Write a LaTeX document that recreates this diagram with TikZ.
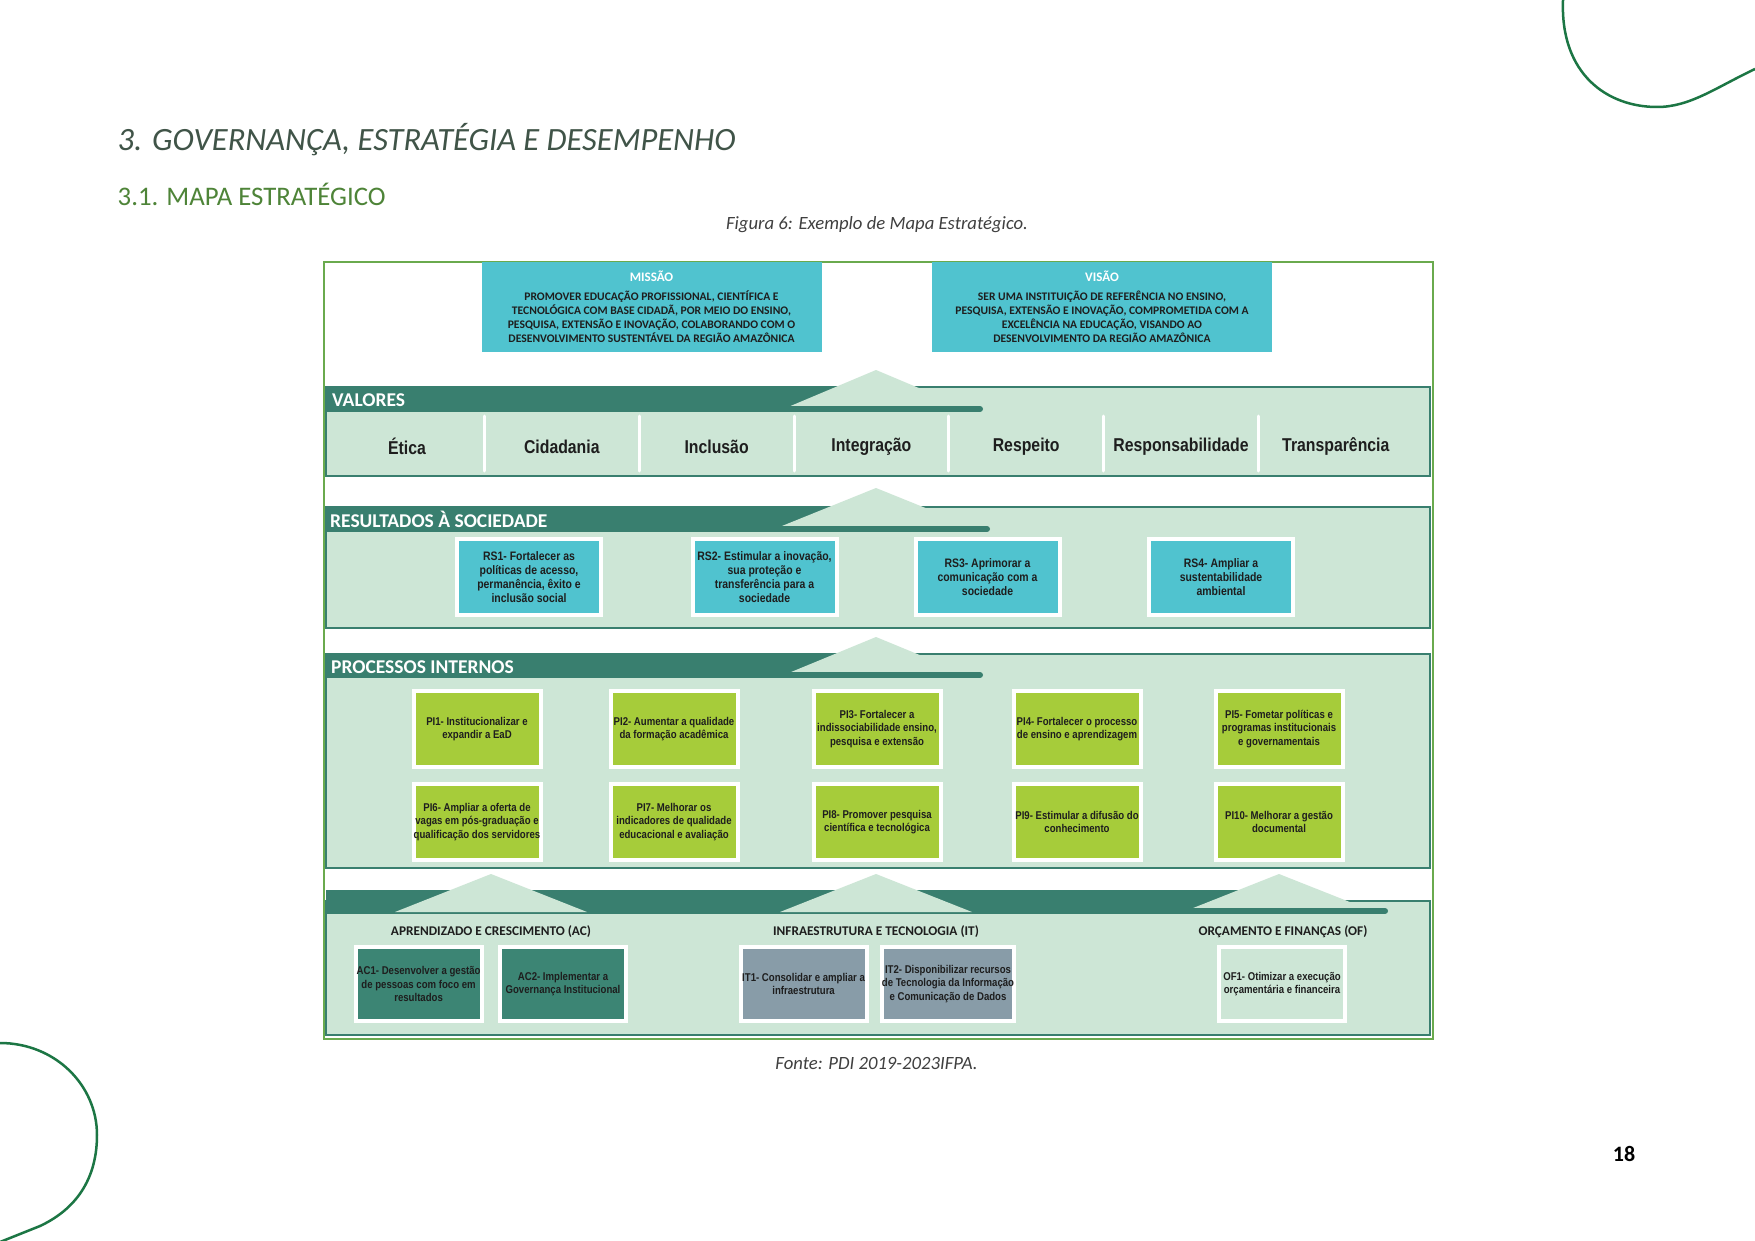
\documentclass[tikz,border=0pt]{standalone}
\usepackage{fontspec}
\setmainfont{Carlito}
\newfontfamily\narrowfont[FakeStretch=0.85]{Liberation Sans}
\usetikzlibrary{positioning, calc}

\definecolor{missaoteal}{RGB}{80,195,207}
\definecolor{stripgreen}{RGB}{57,127,111}
\definecolor{bandgreen}{RGB}{205,230,214}
\definecolor{pilime}{RGB}{166,204,58}
\definecolor{acgreen}{RGB}{60,133,116}
\definecolor{itgray}{RGB}{136,156,168}
\definecolor{framegreen}{RGB}{106,170,78}
\definecolor{curvegreen}{RGB}{28,118,68}
\definecolor{titlegray}{RGB}{64,84,72}
\definecolor{subgreen}{RGB}{78,132,56}
\definecolor{captiongray}{RGB}{64,64,64}
\definecolor{boxtext}{RGB}{30,30,30}

\newcommand{\fsz}[2]{\fontsize{#1}{#2}\selectfont}

\tikzset{
  bandback/.style={fill=bandgreen, draw=stripgreen, line width=2.5pt},
  stripfill/.style={fill=stripgreen},
  risetri/.style={fill=bandgreen},
  stripend/.style={draw=stripgreen, line width=6pt, line cap=round},
  bandtitle/.style={anchor=base west, inner sep=0pt, text=white, font=\bfseries\fsz{19.5}{22}},
  valuelabel/.style={inner sep=0pt, text=boxtext, font=\narrowfont\bfseries\fsz{18.6}{20}},
  valuesep/.style={draw=white, line width=3pt, line cap=round},
  topbox/.style={fill=missaoteal, minimum width=340pt, minimum height=90pt, align=center, text=boxtext, font=\bfseries\fsz{11.6}{14}, inner sep=0pt},
  objbox/.style={draw=white, line width=4pt, align=center, inner sep=0pt, text=boxtext},
  rsbox/.style={objbox, fill=missaoteal, minimum width=144pt, minimum height=76pt, font=\narrowfont\bfseries\fsz{12.3}{14.2}},
  pibox/.style={objbox, fill=pilime, minimum width=127pt, minimum height=76pt, font=\narrowfont\bfseries\fsz{11.3}{13.4}},
  basebox/.style={objbox, minimum width=126pt, minimum height=74pt, font=\narrowfont\bfseries\fsz{11.3}{13.4}},
  grouplabel/.style={inner sep=0pt, text=boxtext, font=\bfseries\fsz{13.3}{15}},
  pagedeco/.style={draw=curvegreen, line width=2.5pt},
}

\begin{document}
\begin{tikzpicture}[x=1pt, y=-1pt]
\useasboundingbox[fill=white] (0,0) rectangle (1755,1241);

% page decoration
\draw[pagedeco] (1563,0) .. controls (1560,75) and (1608,107) .. (1657,107) .. controls (1690,107) and (1715,88) .. (1755,69);
\draw[pagedeco] (0,1043) .. controls (55,1043) and (97,1085) .. (97,1135) .. controls (97,1185) and (70,1212) .. (40,1226) -- (0,1242);

% headings
\node[anchor=base west, inner sep=0pt, text=titlegray, font=\itshape\fsz{32.5}{36}] (titulo) at (117.5,151) {3. GOVERNANÇA, ESTRATÉGIA E DESEMPENHO};
\node[anchor=base west, inner sep=0pt, text=subgreen, font=\fsz{26.8}{30}] (subtitulo) at (117.5,206) {3.1. MAPA ESTRATÉGICO};
\node[anchor=base, inner sep=0pt, text=captiongray, font=\itshape\fsz{18.7}{22}] (legenda) at (877,229.5) {Figura 6: Exemplo de Mapa Estratégico.};
\node[anchor=base, inner sep=0pt, text=captiongray, font=\itshape\fsz{18.7}{22}] (fonte) at (876.5,1069) {Fonte: PDI 2019-2023IFPA.};
\node[anchor=base, inner sep=0pt, font=\bfseries\fsz{22}{26}] (pagina) at (1624,1161) {18};

% frame of the map
\draw[framegreen, line width=2pt] (323.5,262) rectangle (1432.7,1038.7);

% mission and vision
\node[topbox] (missao) at (651.5,306.8) {{\color{white}\fsz{13}{15}MISSÃO}\\[5.5pt]
  PROMOVER EDUCAÇÃO PROFISSIONAL, CIENTÍFICA E\\
  TECNOLÓGICA COM BASE CIDADÃ, POR MEIO DO ENSINO,\\
  PESQUISA, EXTENSÃO E INOVAÇÃO, COLABORANDO COM O\\
  DESENVOLVIMENTO SUSTENTÁVEL DA REGIÃO AMAZÔNICA};
\node[topbox] (visao) at (1102,306.8) {{\color{white}\fsz{13}{15}VISÃO}\\[5.5pt]
  SER UMA INSTITUIÇÃO DE REFERÊNCIA NO ENSINO,\\
  PESQUISA, EXTENSÃO E INOVAÇÃO, COMPROMETIDA COM A\\
  EXCELÊNCIA NA EDUCAÇÃO, VISANDO AO\\
  DESENVOLVIMENTO DA REGIÃO AMAZÔNICA};

% bands
\draw[bandback] (326,387) rectangle (1430,476);
\draw[bandback] (326,507) rectangle (1430,628);
\draw[bandback] (326,654) rectangle (1430,868);
\draw[bandback] (326,901) rectangle (1430,1035);
\fill[stripfill] (326,387) rectangle (916,412);
\fill[stripfill] (326,507) rectangle (916,532);
\fill[stripfill] (326,654) rectangle (916,678);
\fill[stripfill] (326,890) rectangle (1319,914);
\foreach \tx/\ty/\tb/\tw in {876/370/410/95, 876/488/530/104, 876/637/677/97,
    491/874/912/96, 876/874/912/96, 1279/874/912/96}
  \fill[risetri] (\tx,\ty) -- (\tx+\tw,\tb) -- (\tx-\tw,\tb) -- cycle;
\foreach \sx/\sy/\se in {781/409/980, 772/529/987, 779/675/980, 1183/911/1385}
  \draw[stripend] (\sx,\sy) -- (\se,\sy);

\node[bandtitle] (valores) at (332,406) {VALORES};
\node[bandtitle] (resultados) at (330,527) {RESULTADOS À SOCIEDADE};
\node[bandtitle] (processos) at (331,673) {PROCESSOS INTERNOS};

% values
\foreach \i in {1,...,6}
  \draw[valuesep] (407+154.8*\i-77.4,416) -- ++(0,55);
\foreach \val [count=\i from 0] in {Ética, Cidadania, Inclusão, Integração, Respeito, Responsabilidade, Transparência}
  \node[valuelabel] (valor\i) at (407+154.8*\i,446.5) {\val};

% results to society
\foreach \i/\x/\txt in {
    1/529/{RS1- Fortalecer as\\políticas de acesso,\\permanência, êxito e\\inclusão social},
    2/764.5/{RS2- Estimular a inovação,\\sua proteção e\\transferência para a\\sociedade},
    3/987.5/{RS3- Aprimorar a\\comunicação com a\\sociedade},
    4/1221/{RS4- Ampliar a\\sustentabilidade\\ambiental}}
  \node[rsbox] (rs\i) at (\x,577) {\txt};

% internal processes
\foreach \i/\x/\y/\txt in {
    1/477/729/{PI1- Institucionalizar e\\expandir a EaD},
    2/674/729/{PI2- Aumentar a qualidade\\da formação acadêmica},
    3/877/729/{PI3- Fortalecer a\\indissociabilidade ensino,\\pesquisa e extensão},
    4/1077/729/{PI4- Fortalecer o processo\\de ensino e aprendizagem},
    5/1279/729/{PI5- Fometar políticas e\\programas institucionais\\e governamentais},
    6/477/822/{PI6- Ampliar a oferta de\\vagas em pós-graduação e\\qualificação dos servidores},
    7/674/822/{PI7- Melhorar os\\indicadores de qualidade\\educacional e avaliação},
    8/877/822/{PI8- Promover pesquisa\\científica e tecnológica},
    9/1077/822/{PI9- Estimular a difusão do\\conhecimento},
    10/1279/822/{PI10- Melhorar a gestão\\documental}}
  \node[pibox] (pi\i) at (\x,\y) {\txt};

% base perspectives
\node[grouplabel] (grupoac) at (491,932) {APRENDIZADO E CRESCIMENTO (AC)};
\node[grouplabel] (grupoit) at (876,932) {INFRAESTRUTURA E TECNOLOGIA (IT)};
\node[grouplabel] (grupoof) at (1283,932) {ORÇAMENTO E FINANÇAS (OF)};

\node[basebox, fill=acgreen] (ac1) at (418.6,984) {AC1- Desenvolver a gestão\\de pessoas com foco em\\resultados};
\node[basebox, fill=acgreen] (ac2) at (563,984) {AC2- Implementar a\\Governança Institucional};
\node[basebox, fill=itgray] (it1) at (803.6,984) {IT1- Consolidar e ampliar a\\infraestrutura};
\node[basebox, fill=itgray] (it2) at (948,984) {IT2- Disponibilizar recursos\\de Tecnologia da Informação\\e Comunicação de Dados};
\node[basebox, fill=bandgreen] (of1) at (1282,984) {OF1- Otimizar a execução\\orçamentária e financeira};
\end{tikzpicture}
\end{document}
